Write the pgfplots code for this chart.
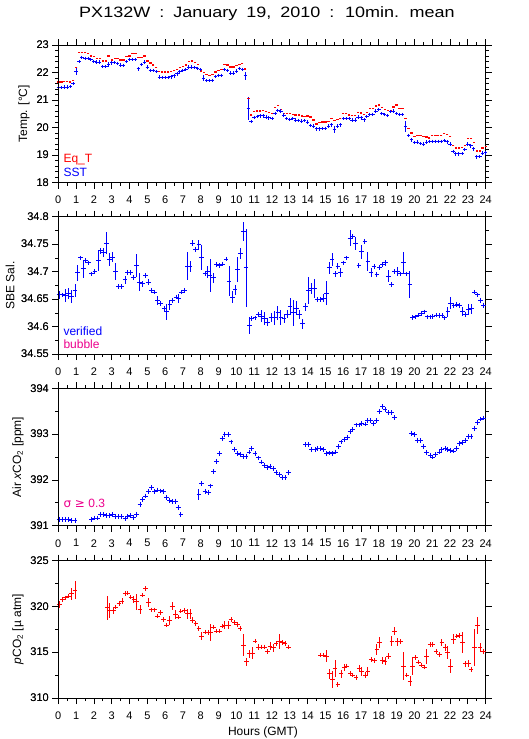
\documentclass[border=0pt]{standalone}
\usepackage{fontspec}
\setmainfont{Liberation Sans}
\newfontfamily\titlefont[FakeStretch=1.2]{Liberation Sans}
\newfontfamily\dejavu{DejaVu Sans}
\usepackage{pgfplots}
\usepackage{pgfplotstable}
\pgfplotsset{compat=1.18}

\pgfplotstableread{
t v e
0.00 21.45 0
0.17 21.45 0
0.33 21.47 0
0.50 21.47 0
0.67 21.50 0
0.83 21.60 0.05
1.00 22.05 0.15
1.17 22.40 0.07
1.33 22.55 0
1.50 22.52 0
1.67 22.52 0
1.83 22.48 0
2.00 22.40 0
2.17 22.38 0
2.33 22.38 0
2.50 22.22 0
2.67 22.22 0
2.83 22.30 0.10
3.00 22.35 0
3.17 22.37 0
3.33 22.33 0
3.50 22.27 0
3.67 22.26 0
3.83 22.40 0
4.00 22.48 0
4.17 22.48 0
4.33 22.47 0.05
4.50 22.13 0
4.67 22.30 0.04
4.83 22.38 0
5.00 22.20 0
5.17 22.08 0
5.33 22.07 0
5.50 22.03 0
5.67 21.83 0
5.83 21.82 0
6.00 21.82 0
6.17 21.82 0
6.33 21.84 0
6.50 21.88 0
6.67 21.95 0
6.83 22.02 0
7.00 22.07 0
7.17 22.10 0
7.33 22.20 0
7.50 22.20 0
7.67 22.18 0
7.83 22.15 0
8.00 22.10 0
8.17 21.80 0.10
8.33 21.70 0
8.50 21.70 0
8.67 21.72 0
8.83 21.85 0
9.00 21.90 0
9.17 21.90 0
9.33 22.10 0
9.50 22.08 0
9.67 21.98 0
9.83 21.98 0
10.00 22.05 0
10.17 22.15 0
10.33 22.12 0
10.50 21.88 0.15
10.67 20.70 0.42
10.83 20.22 0
11.00 20.37 0
11.17 20.40 0
11.33 20.42 0
11.50 20.42 0
11.67 20.38 0
11.83 20.35 0
12.00 20.33 0.06
12.17 20.52 0
12.33 20.62 0
12.50 20.60 0
12.67 20.45 0
12.83 20.32 0
13.00 20.30 0
13.17 20.32 0
13.33 20.27 0
13.50 20.25 0
13.67 20.23 0
13.83 20.25 0
14.00 20.20 0.05
14.17 20.08 0
14.33 20.05 0
14.50 19.95 0
14.67 19.95 0
14.83 19.96 0
15.00 19.97 0
15.17 20.05 0
15.33 20.10 0.08
15.50 19.93 0.12
15.67 20.05 0
15.83 20.10 0.07
16.00 20.32 0
16.17 20.32 0
16.33 20.32 0
16.50 20.27 0
16.67 20.27 0
16.83 20.38 0
17.00 20.35 0
17.17 20.28 0
17.33 20.40 0.05
17.50 20.48 0
17.67 20.48 0
17.83 20.60 0
18.00 20.65 0
18.17 20.50 0
18.33 20.47 0
18.50 20.43 0
18.67 20.58 0
18.83 20.60 0
19.00 20.50 0
19.17 20.48 0
19.33 20.47 0
19.50 20.05 0.20
19.67 19.72 0
19.83 19.55 0
20.00 19.45 0
20.17 19.47 0
20.33 19.42 0
20.50 19.40 0
20.67 19.47 0
20.83 19.50 0
21.00 19.50 0
21.17 19.50 0
21.33 19.50 0
21.50 19.50 0
21.67 19.52 0
21.83 19.48 0
22.00 19.40 0.05
22.17 19.13 0
22.33 19.04 0
22.50 19.04 0
22.67 19.05 0
22.83 19.20 0.06
23.00 19.40 0
23.17 19.33 0
23.33 19.22 0
23.50 18.93 0
23.67 18.94 0
23.83 19.07 0
24.00 19.08 0
}\sst

\pgfplotstableread{
t v
0.00 21.65
0.17 21.65
0.33 21.67
0.50 21.67
0.67 21.66
0.83 21.72
1.00 22.18
1.17 22.72
1.33 22.72
1.50 22.72
1.67 22.68
1.83 22.60
2.00 22.58
2.17 22.52
2.33 22.50
2.50 22.42
2.67 22.42
2.83 22.60
3.00 22.45
3.17 22.52
3.33 22.52
3.50 22.45
3.67 22.45
3.83 22.58
4.00 22.60
4.17 22.68
4.33 22.68
4.50 22.55
4.67 22.55
4.83 22.60
5.00 22.42
5.17 22.35
5.33 22.27
5.50 22.17
5.67 22.03
5.83 22.02
6.00 22.02
6.17 22.02
6.33 22.04
6.50 22.08
6.67 22.12
6.83 22.18
7.00 22.22
7.17 22.27
7.33 22.40
7.50 22.42
7.67 22.36
7.83 22.28
8.00 22.05
8.17 22.00
8.33 21.92
8.50 21.90
8.67 21.92
8.83 22.02
9.00 22.08
9.17 22.10
9.33 22.28
9.50 22.27
9.67 22.20
9.83 22.20
10.00 22.25
10.17 22.30
10.33 22.32
10.50 22.13
10.67 21.05
10.83 20.45
11.00 20.58
11.17 20.60
11.33 20.60
11.50 20.62
11.67 20.58
11.83 20.55
12.00 20.52
12.17 20.73
12.33 20.80
12.50 20.65
12.67 20.52
12.83 20.50
13.00 20.50
13.17 20.48
13.33 20.46
13.50 20.45
13.67 20.42
13.83 20.40
14.00 20.42
14.17 20.38
14.33 20.27
14.50 20.13
14.67 20.18
14.83 20.20
15.00 20.20
15.17 20.22
15.33 20.32
15.50 20.25
15.67 20.30
15.83 20.33
16.00 20.52
16.17 20.52
16.33 20.45
16.50 20.43
16.67 20.43
16.83 20.55
17.00 20.53
17.17 20.48
17.33 20.55
17.50 20.68
17.67 20.68
17.83 20.78
18.00 20.82
18.17 20.72
18.33 20.65
18.50 20.62
18.67 20.60
18.83 20.75
19.00 20.82
19.17 20.68
19.33 20.68
19.50 20.32
19.67 19.97
19.83 19.80
20.00 19.68
20.17 19.70
20.33 19.70
20.50 19.68
20.67 19.65
20.83 19.62
21.00 19.70
21.17 19.70
21.33 19.70
21.50 19.70
21.67 19.77
21.83 19.75
22.00 19.68
22.17 19.35
22.33 19.25
22.50 19.25
22.67 19.27
22.83 19.35
23.00 19.60
23.17 19.60
23.33 19.45
23.50 19.15
23.67 19.15
23.83 19.25
24.00 19.30
}\eqt

\pgfplotstableread{
t v e
0.04 34.658 0.007
0.22 34.658 0.004
0.41 34.657 0.012
0.56 34.660 0.010
0.75 34.655 0.011
0.94 34.666 0.012
1.09 34.698 0.015
1.25 34.725 0.004
1.40 34.705 0.017
1.55 34.720 0.004
1.69 34.716 0.004
1.87 34.696 0.004
2.06 34.700 0.004
2.25 34.720 0.018
2.38 34.738 0.006
2.53 34.735 0.009
2.72 34.752 0.020
2.87 34.722 0.012
3.03 34.726 0.009
3.22 34.700 0.015
3.37 34.673 0.003
3.56 34.673 0.003
3.75 34.685 0.008
3.90 34.699 0.004
4.06 34.699 0.004
4.21 34.690 0.004
4.40 34.711 0.021
4.55 34.681 0.016
4.72 34.678 0.005
4.89 34.693 0.004
5.06 34.681 0.005
5.24 34.666 0.004
5.39 34.663 0.004
5.58 34.648 0.008
5.75 34.642 0.004
5.94 34.633 0.004
6.09 34.627 0.015
6.27 34.640 0.009
6.42 34.648 0.004
6.61 34.654 0.004
6.74 34.651 0.008
6.93 34.663 0.004
7.08 34.666 0.004
7.25 34.710 0.025
7.40 34.710 0.010
7.55 34.752 0.006
7.72 34.740 0.004
7.90 34.749 0.009
8.05 34.726 0.023
8.24 34.696 0.004
8.39 34.700 0.011
8.52 34.694 0.030
8.71 34.689 0.009
8.90 34.713 0.004
9.04 34.711 0.004
9.23 34.714 0.004
9.42 34.723 0.004
9.59 34.683 0.028
9.78 34.654 0.011
9.93 34.667 0.009
10.07 34.704 0.023
10.24 34.734 0.010
10.39 34.773 0.017
10.54 34.707 0.071
10.73 34.602 0.016
10.86 34.615 0.004
11.05 34.616 0.004
11.24 34.622 0.004
11.40 34.619 0.011
11.57 34.615 0.012
11.75 34.608 0.007
11.95 34.617 0.008
12.15 34.616 0.012
12.33 34.625 0.013
12.50 34.617 0.013
12.68 34.615 0.009
12.86 34.623 0.007
13.02 34.637 0.015
13.20 34.625 0.023
13.38 34.634 0.012
13.53 34.622 0.008
13.70 34.605 0.009
13.88 34.636 0.007
14.05 34.666 0.024
14.22 34.669 0.010
14.38 34.669 0.017
14.55 34.649 0.004
14.72 34.649 0.004
14.88 34.652 0.007
15.05 34.661 0.022
15.22 34.707 0.011
15.38 34.722 0.012
15.55 34.696 0.006
15.70 34.710 0.005
15.86 34.698 0.008
16.03 34.716 0.004
16.20 34.725 0.004
16.38 34.761 0.014
16.53 34.764 0.004
16.70 34.752 0.012
16.88 34.711 0.004
17.04 34.736 0.013
17.22 34.755 0.004
17.38 34.719 0.017
17.56 34.698 0.008
17.73 34.710 0.004
17.89 34.695 0.004
18.05 34.708 0.004
18.20 34.713 0.004
18.37 34.716 0.005
18.54 34.692 0.011
18.72 34.677 0.004
18.88 34.700 0.004
19.05 34.700 0.008
19.21 34.696 0.004
19.38 34.716 0.020
19.56 34.696 0.004
19.74 34.677 0.024
19.90 34.617 0.004
20.07 34.618 0.004
20.23 34.621 0.004
20.38 34.624 0.004
20.55 34.627 0.004
20.71 34.618 0.004
20.88 34.618 0.004
21.04 34.619 0.004
21.21 34.621 0.004
21.38 34.620 0.004
21.55 34.620 0.004
21.71 34.616 0.004
21.88 34.627 0.009
22.04 34.643 0.011
22.21 34.639 0.004
22.38 34.640 0.004
22.54 34.639 0.004
22.71 34.627 0.008
22.87 34.622 0.004
23.04 34.631 0.010
23.20 34.633 0.009
23.37 34.663 0.004
23.54 34.658 0.004
23.70 34.648 0.004
23.87 34.639 0.004
}\sal

\pgfplotstableread{
t v e
0.06 391.14 0
0.22 391.14 0
0.41 391.14 0
0.56 391.13 0
0.75 391.12 0
0.94 391.12 0
1.87 391.14 0
2.02 391.17 0
2.21 391.17 0
2.38 391.25 0.03
2.53 391.24 0
2.72 391.22 0
2.90 391.22 0
3.05 391.24 0
3.22 391.21 0
3.39 391.20 0
3.56 391.20 0
3.75 391.15 0
3.90 391.21 0
4.06 391.22 0
4.21 391.18 0
4.40 391.25 0.055
4.59 391.47 0
4.74 391.58 0
4.91 391.65 0
5.07 391.74 0
5.24 391.83 0
5.41 391.74 0.045
5.58 391.78 0
5.75 391.76 0
5.90 391.74 0
6.09 391.61 0
6.24 391.56 0
6.40 391.53 0
6.57 391.54 0.055
6.74 391.40 0
6.89 391.24 0
7.90 391.69 0.12
8.05 391.92 0
8.24 391.74 0
8.43 391.72 0.04
8.56 391.87 0.04
8.73 392.18 0
8.90 392.41 0
9.04 392.57 0.045
9.21 392.90 0.05
9.36 393.00 0
9.55 392.99 0
9.70 392.83 0.035
9.89 392.66 0
10.06 392.58 0
10.21 392.55 0
10.39 392.52 0
10.54 392.52 0
10.71 392.61 0
10.86 392.68 0
11.05 392.57 0
11.24 392.48 0
11.40 392.39 0
11.57 392.32 0
11.74 392.28 0
11.89 392.30 0
12.08 392.25 0
12.23 392.16 0
12.42 392.12 0
12.58 392.05 0.035
12.73 392.05 0
12.92 392.16 0
13.90 392.77 0
14.05 392.77 0.04
14.23 392.66 0
14.42 392.66 0
14.55 392.68 0
14.74 392.68 0
14.89 392.66 0
15.07 392.57 0
15.22 392.59 0
15.41 392.57 0
15.58 392.61 0
15.73 392.73 0
15.88 392.83 0
16.05 392.88 0
16.24 392.93 0
16.39 393.05 0
16.53 393.10 0
16.72 393.20 0
16.89 393.20 0
17.04 393.23 0
17.23 393.22 0
17.38 393.29 0
17.55 393.29 0
17.70 393.24 0.035
17.89 393.29 0
18.03 393.49 0.045
18.20 393.60 0
18.35 393.54 0
18.54 393.47 0
18.69 393.47 0
18.88 393.36 0
19.85 393.02 0
20.00 392.99 0
20.16 392.86 0
20.35 392.86 0
20.50 392.73 0
20.69 392.60 0
20.88 392.54 0
21.03 392.50 0
21.20 392.55 0
21.39 392.61 0
21.54 392.66 0
21.72 392.68 0
21.87 392.66 0
22.04 392.64 0
22.19 392.63 0
22.38 392.68 0
22.53 392.79 0
22.70 392.81 0
22.85 392.86 0
23.03 392.95 0
23.18 392.95 0.05
23.37 393.13 0
23.54 393.26 0
23.69 393.33 0
23.88 393.35 0
}\xco

\pgfplotstableread{
t v e
0.06 320.20 0.36
0.22 320.75 0.15
0.41 320.93 0.15
0.56 321.11 0.15
0.75 321.37 0.64
0.94 321.77 0.94
2.75 319.84 1.33
2.90 319.55 0.85
3.09 319.55 0.36
3.24 319.91 0.15
3.41 320.28 0.15
3.58 320.57 0.36
3.75 321.37 0.15
3.90 321.44 0.15
4.08 321.00 0.15
4.25 320.75 0.36
4.40 320.50 0.90
4.59 319.66 0.50
4.74 321.22 0.15
4.91 321.95 0.15
5.07 320.39 0.50
5.24 319.62 0.15
5.41 319.62 0.15
5.58 318.93 0.15
5.75 319.30 0.15
5.90 318.57 0.15
6.09 317.95 0.15
6.24 318.46 0.45
6.40 320.02 0.42
6.57 319.12 0.50
6.74 318.82 0.15
6.89 319.48 0.15
7.08 319.55 0.15
7.25 319.19 0.55
7.40 319.19 0.53
7.55 318.46 0.33
7.73 318.10 0.15
7.90 317.59 0.15
8.05 316.75 0.45
8.24 317.19 0.15
8.41 317.12 0.30
8.56 317.12 0.90
8.73 317.74 0.15
8.90 317.30 0.15
9.04 317.30 0.15
9.21 317.84 0.15
9.36 317.95 0.42
9.55 317.95 0.42
9.70 318.57 0.30
9.89 318.21 0.15
10.06 318.03 0.15
10.21 317.55 0.15
10.39 315.77 1.22
10.58 313.96 0.42
10.73 314.83 0.44
10.90 314.90 0.62
11.05 316.21 0.15
11.24 315.56 0.33
11.40 315.56 0.15
11.57 315.56 0.15
11.74 315.05 0.15
11.89 315.66 0.42
12.08 315.48 0.45
12.23 315.92 0.15
12.42 316.20 0.82
12.58 316.03 0.15
12.73 315.92 0.15
12.92 315.56 0.15
14.74 314.68 0.15
14.89 314.68 0.15
15.07 314.57 0.64
15.22 312.65 0.55
15.39 312.03 0.96
15.54 313.23 0.90
15.70 311.49 0.15
15.88 312.65 0.45
16.05 313.30 0.36
16.20 313.49 0.15
16.39 312.65 0.15
16.53 312.50 0.15
16.72 312.21 0.15
16.89 313.23 0.42
17.04 312.87 0.50
17.23 312.50 0.33
17.38 312.87 0.50
17.57 314.21 0.15
17.74 314.10 0.15
17.89 315.30 0.64
18.03 316.03 0.62
18.20 314.10 0.36
18.35 314.03 0.40
18.54 314.57 0.36
18.73 316.21 0.55
18.88 317.30 0.44
19.05 316.14 0.45
19.20 316.14 0.15
19.38 313.49 1.56
19.57 312.50 0.15
19.76 311.85 0.58
19.90 313.49 1.00
20.07 314.39 0.27
20.22 313.92 0.15
20.38 313.59 0.15
20.55 313.38 0.15
20.69 314.57 0.82
20.88 315.85 0.15
21.03 315.85 0.15
21.22 315.05 0.15
21.39 314.76 0.15
21.54 316.03 0.36
21.72 315.48 0.36
21.87 314.94 0.69
22.04 313.49 0.73
22.19 316.39 0.55
22.38 316.75 0.15
22.53 316.86 0.27
22.70 316.03 1.14
22.85 313.74 0.33
23.03 313.74 0.36
23.18 313.12 0.25
23.37 315.48 2.00
23.54 317.95 0.94
23.69 315.56 0.49
23.88 315.05 0.15
}\pco

\pgfplotsset{
  panel/.style={
    scale only axis, width=427.4pt, height=137.5pt, anchor=north west,
    xmin=0, xmax=24, xtick={0,...,24}, minor x tick num=1,
    tick align=outside, major tick length=6pt, minor tick length=3pt,
    tick style={black, line width=0.8pt},
    axis line style={line width=0.8pt},
    ticklabel style={font=\fontsize{11}{13}\selectfont},
    xticklabel style={yshift=-4pt},
    label style={font=\fontsize{12}{14}\selectfont},
    /pgf/number format/assume math mode=true,
    xtick pos=both, ytick pos=both, xticklabel pos=lower, yticklabel pos=left,
    clip=true,
  },
  rpanel/.style={panel, axis x line=none, axis y line*=right, yticklabel pos=right, ylabel={}},
  ebar/.style={only marks, mark=+, line width=1pt, color=#1, mark options={draw=#1, solid},
    error bars/.cd, y dir=both, y explicit, error mark=none,
    error bar style={line width=1pt, draw=#1, solid}},
}

\begin{document}
\begin{tikzpicture}
\useasboundingbox (0pt,0pt) rectangle (529pt,-739pt);
\node[anchor=base] at (267pt,-17pt) {\titlefont\fontsize{15}{18}\selectfont\spaceskip=9pt PX132W : January 19, 2010 : 10min. mean};

% Panel 1
\begin{axis}[panel, at={(58.3pt,-45pt)}, ymin=18, ymax=23, ytick={18,...,23}, minor y tick num=4, ylabel={Temp. [\textdegree C]}]
\addplot[red, only marks, mark=-, mark size=1.2pt, line width=1.3pt] table[x=t, y=v] {\eqt};
\addplot[mark size=1.7pt, ebar=blue] table[x=t, y=v, y error=e] {\sst};
\node[anchor=west, text=red, font=\fontsize{12}{14}\selectfont] at (rel axis cs:0.004,0.168) {Eq\_T};
\node[anchor=west, text=blue, font=\fontsize{12}{14}\selectfont] at (rel axis cs:0.004,0.075) {SST};
\end{axis}
\begin{axis}[rpanel, at={(58.3pt,-45pt)}, ymin=18, ymax=23, ytick={18,...,23}, minor y tick num=4]
\end{axis}

% Panel 2
\begin{axis}[panel, at={(58.3pt,-216.7pt)}, ymin=34.55, ymax=34.8, ytick={34.55,34.6,34.65,34.7,34.75,34.8}, minor y tick num=1, ylabel={SBE Sal.}]
\addplot[mark size=2.3pt, ebar=blue] table[x=t, y=v, y error=e] {\sal};
\node[anchor=west, text=blue, font=\fontsize{12}{14}\selectfont] at (rel axis cs:0.004,0.168) {verified};
\node[anchor=west, text=magenta, font=\fontsize{12}{14}\selectfont] at (rel axis cs:0.004,0.072) {bubble};
\end{axis}
\begin{axis}[rpanel, at={(58.3pt,-216.7pt)}, ymin=34.55, ymax=34.8, ytick={34.55,34.6,34.65,34.7,34.75,34.8}, minor y tick num=1]
\end{axis}

% Panel 3
\begin{axis}[panel, at={(58.3pt,-388.3pt)}, ymin=391, ymax=394, ytick={391,392,393,394}, minor y tick num=1, ylabel={Air \textit{x}CO\textsubscript{2} [ppm]}]
\addplot[mark size=2.4pt, ebar=blue] table[x=t, y=v, y error=e] {\xco};
\node[anchor=west, text=magenta, font=\fontsize{12}{14}\selectfont] at (rel axis cs:0.004,0.161) {{\dejavu σ ≥} 0.3};
\end{axis}
\begin{axis}[rpanel, at={(58.3pt,-388.3pt)}, ymin=391, ymax=394, ytick={391,392,393,394}, minor y tick num=1]
\end{axis}

% Panel 4
\begin{axis}[panel, at={(58.3pt,-560.5pt)}, ymin=310, ymax=325, ytick={310,315,320,325}, minor y tick num=1, ylabel={\textit{p}CO\textsubscript{2} [µ atm]}]
\addplot[mark size=2.3pt, ebar=red] table[x=t, y=v, y error=e] {\pco};
\end{axis}
\begin{axis}[rpanel, at={(58.3pt,-560.5pt)}, ymin=310, ymax=325, ytick={310,315,320,325}, minor y tick num=1]
\end{axis}

\node[font=\fontsize{12}{14}\selectfont] at (263pt,-732pt) {Hours (GMT)};
\end{tikzpicture}
\end{document}
